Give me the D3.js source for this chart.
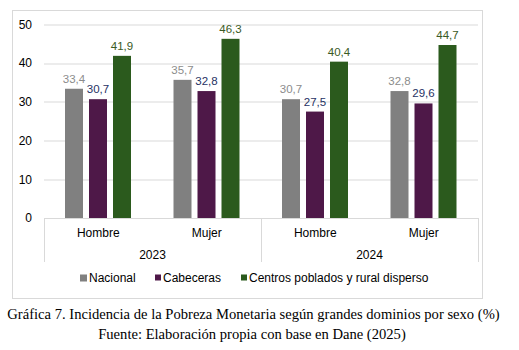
<!DOCTYPE html>
<html>
<head>
<meta charset="utf-8">
<script src="https://cdn.jsdelivr.net/npm/d3@7"></script>
<style>
  body { margin: 0; background: #fff; }
  svg { display: block; font-family: 'Liberation Sans', Arial, sans-serif; }
</style>
</head>
<body>
<svg width="519" height="350"></svg>
<script>
const years = ['2023', '2024']
const sexes = ['Hombre', 'Mujer']
const seriesNames = ['Nacional', 'Cabeceras', 'Centros poblados y rural disperso']
const nacional = [33.4, 35.7, 30.7, 32.8]
const cabeceras = [30.7, 32.8, 27.5, 29.6]
const rural = [41.9, 46.3, 40.4, 44.7]
const yTicks = [0, 10, 20, 30, 40, 50]

const barColors = ['#808080', '#4e1848', '#2b5a1d']
const labelColors = ['#8c8c8c', '#1f3264', '#3a5a24']

const svg = d3.select('svg')
const margins = {left: 44, right: 41, top: 24.5, bottom: 132}
const width = 519 - margins.left - margins.right
const height = 350 - margins.top - margins.bottom

// chart frame
svg.append('rect')
  .attr('x', 12.5).attr('y', 10.5)
  .attr('width', 470).attr('height', 288)
  .attr('fill', 'none').attr('stroke', '#d9d9d9')

const g = svg.append('g').attr('transform', `translate(${margins.left}, ${margins.top})`)

const categories = []
years.forEach((yr) => sexes.forEach((s) => categories.push(yr + '|' + s)))

const x0 = d3.scaleBand().domain(categories).range([0, width])
const x1 = d3.scaleBand().domain(seriesNames).range([21, 87]).paddingInner(0.25)
const y = d3.scaleLinear().domain([0, 50]).range([height, 0])

// gridlines
g.selectAll('.grid').data(yTicks.filter((d) => d > 0)).enter()
  .append('line')
  .attr('x1', 0).attr('x2', width)
  .attr('y1', (d) => Math.round(y(d)) + 0.5).attr('y2', (d) => Math.round(y(d)) + 0.5)
  .attr('stroke', '#d9d9d9')

// y axis labels
g.selectAll('.ytick').data(yTicks).enter()
  .append('text')
  .attr('x', -12).attr('y', (d) => y(d))
  .attr('dy', '0.35em')
  .attr('text-anchor', 'end')
  .attr('font-size', 12).attr('fill', '#000')
  .text((d) => d)

// bars
const values = [nacional, cabeceras, rural]
const rows = categories.map((c, i) => ({cat: c, vals: values.map((v) => v[i])}))

const groups = g.selectAll('.bar-group').data(rows).enter()
  .append('g')
  .attr('transform', (d) => `translate(${x0(d.cat)}, 0)`)

groups.selectAll('rect')
  .data((d) => d.vals.map((v, k) => ({key: seriesNames[k], k, v})))
  .enter()
  .append('rect')
  .attr('x', (d) => x1(d.key))
  .attr('width', x1.bandwidth())
  .attr('y', (d) => y(d.v))
  .attr('height', (d) => height - y(d.v))
  .attr('fill', (d) => barColors[d.k])

groups.selectAll('.val')
  .data((d) => d.vals.map((v, k) => ({key: seriesNames[k], k, v})))
  .enter()
  .append('text')
  .attr('x', (d) => x1(d.key) + x1.bandwidth() / 2)
  .attr('y', (d) => y(d.v) - 6)
  .attr('text-anchor', 'middle')
  .attr('font-size', 11.5)
  .attr('fill', (d) => labelColors[d.k])
  .text((d) => d3.format('.1f')(d.v).replace('.', ','))

// category axis
const axisColor = '#d9d9d9'
g.append('line')
  .attr('x1', 0).attr('x2', width)
  .attr('y1', height + 0.5).attr('y2', height + 0.5)
  .attr('stroke', axisColor)

;[0, width / 2, width].forEach((px) => {
  g.append('line')
    .attr('x1', Math.round(px) + 0.5).attr('x2', Math.round(px) + 0.5)
    .attr('y1', height).attr('y2', height + 44)
    .attr('stroke', axisColor)
})

g.selectAll('.sex').data(categories).enter()
  .append('text')
  .attr('x', (d) => x0(d) + x0.bandwidth() / 2)
  .attr('y', height + 19)
  .attr('text-anchor', 'middle')
  .attr('font-size', 12)
  .text((d) => d.split('|')[1])

g.selectAll('.year').data(years).enter()
  .append('text')
  .attr('x', (d, i) => (i + 0.5) * width / 2)
  .attr('y', height + 41)
  .attr('text-anchor', 'middle')
  .attr('font-size', 12)
  .text((d) => d)

// legend
const legendX = [80, 155, 241]
const legend = svg.append('g').selectAll('g').data(seriesNames).enter()
  .append('g')
  .attr('transform', (d, i) => `translate(${legendX[i]}, 278)`)
legend.append('rect')
  .attr('x', 0).attr('y', -3.5)
  .attr('width', (d, i) => i === 0 ? 7 : 6).attr('height', (d, i) => i === 0 ? 7 : 6)
  .attr('fill', (d, i) => barColors[i])
legend.append('text')
  .attr('x', (d, i) => i === 0 ? 9 : 8)
  .attr('dy', '0.35em')
  .attr('font-size', 12)
  .text((d) => d)

// caption
const serif = "'Liberation Serif', 'Times New Roman', serif"
svg.append('text')
  .attr('x', 253.5).attr('y', 318.5)
  .attr('text-anchor', 'middle')
  .attr('font-family', serif)
  .attr('font-size', 14.6)
  .text('Gráfica 7. Incidencia de la Pobreza Monetaria según grandes dominios por sexo (%)')
svg.append('text')
  .attr('x', 252).attr('y', 338.5)
  .attr('text-anchor', 'middle')
  .attr('font-family', serif)
  .attr('font-size', 14.6)
  .text('Fuente: Elaboración propia con base en Dane (2025)')
</script>
</body>
</html>
